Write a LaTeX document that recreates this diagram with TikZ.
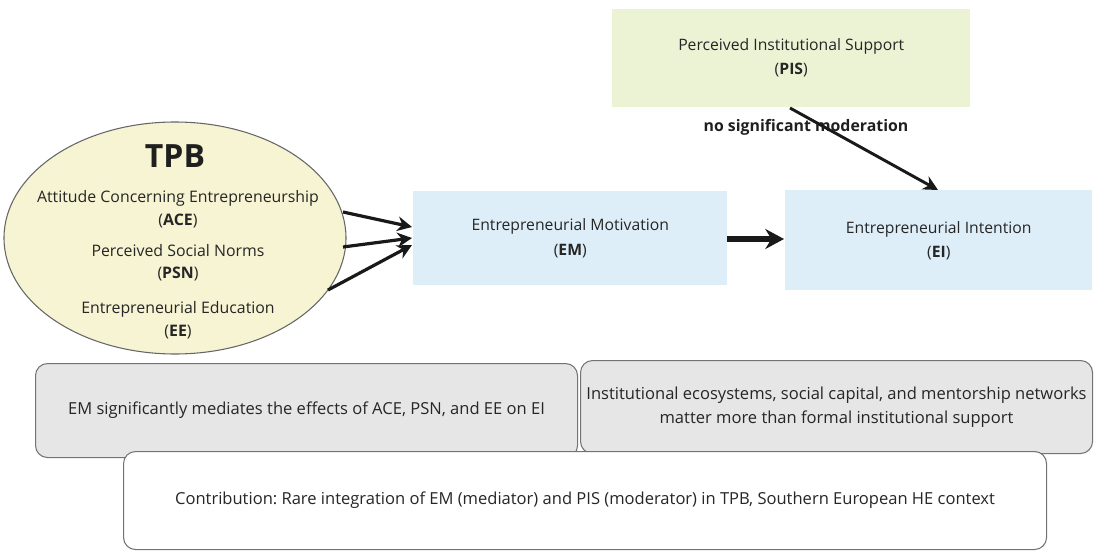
\documentclass[tikz,border=0pt]{standalone}
\usepackage{fontspec}
\setmainfont{Open Sans}
\usetikzlibrary{shapes.geometric,arrows.meta}
\frenchspacing
\definecolor{pisfill}{HTML}{EBF3D4}
\definecolor{bluefill}{HTML}{DDEEF8}
\definecolor{ellfill}{HTML}{F7F4D3}
\definecolor{grayfill}{HTML}{E6E6E6}
\definecolor{txt}{HTML}{262626}
\tikzset{
  boxbase/.style={anchor=north west, inner sep=0pt, align=center, font=\fontsize{11.8}{18}\selectfont, text=txt},
  greenbox/.style={boxbase, fill=pisfill},
  bluebox/.style={boxbase, fill=bluefill},
  graybox/.style={boxbase, fill=grayfill, draw=black!55, rounded corners=9pt, line width=0.8pt, font=\fontsize{12.4}{18}\selectfont},
  whitebox/.style={boxbase, fill=white, draw=black!55, rounded corners=9pt, line width=0.8pt, font=\fontsize{12.4}{18}\selectfont},
  arr/.style={-{Stealth[length=11pt,width=11pt]}, line width=2.4pt, black!90},
  ltxt/.style={font=\fontsize{11.9}{13}\selectfont, text=txt, inner sep=0pt}
}
\begin{document}
\begin{tikzpicture}[x=0.75pt,y=-0.75pt]
\useasboundingbox (0,0) rectangle (1100,560);
% PIS
\node[greenbox, minimum width=358*0.75pt, minimum height=98*0.75pt] (pis) at (612,9) {Perceived Institutional Support\\(\textbf{PIS})};
% EM, EI
\node[bluebox, minimum width=314*0.75pt, minimum height=94*0.75pt] (em) at (413,191) {Entrepreneurial Motivation\\(\textbf{EM})};
\node[bluebox, minimum width=307*0.75pt, minimum height=100*0.75pt] (ei) at (785,190) {Entrepreneurial Intention\\(\textbf{EI})};
% TPB ellipse
\node[ellipse, draw=black!60, fill=ellfill, line width=0.8pt, minimum width=342*0.75pt, minimum height=232*0.75pt, inner sep=0pt] (tpb) at (175,238) {};
\node[ltxt, font=\fontsize{24}{26}\selectfont\bfseries, text=black!88] (tpbt) at (175,156) {TPB};
\node[ltxt] (ace) at (178,198) {Attitude Concerning Entrepreneurship};
\node[ltxt] (acea) at (178,221) {(\textbf{ACE})};
\node[ltxt] (psn) at (178,251) {Perceived Social Norms};
\node[ltxt] (psna) at (178,274) {(\textbf{PSN})};
\node[ltxt] (ee) at (178,309) {Entrepreneurial Education};
\node[ltxt] (eea) at (178,332) {(\textbf{EE})};
% arrows
\coordinate (s1) at (343,212);
\coordinate (s2) at (343,247);
\coordinate (s3) at (328,290);
\coordinate (t1) at (412,227);
\coordinate (t2) at (412,238);
\coordinate (t3) at (412,245);
\coordinate (m1) at (727,239);
\coordinate (m2) at (784,239);
\draw[arr] (s1) -- (t1);
\draw[arr] (s2) -- (t2);
\draw[arr] (s3) -- (t3);
\draw[arr, line width=4pt, -{Stealth[length=14pt,width=15pt]}] (m1) -- (m2);
\node[ltxt, font=\fontsize{11.9}{13}\selectfont\bfseries, text=black!88] (mod) at (806,127) {no significant moderation};
\coordinate (p1) at (790,108);
\coordinate (p2) at (938,190);
\draw[arr, line width=2.2pt] (p1) -- (p2);
% bottom boxes
\node[graybox, minimum width=542*0.75pt, minimum height=94*0.75pt] (b1) at (35,363) {EM significantly mediates the effects of ACE, PSN, and EE on EI};
\node[graybox, minimum width=512*0.75pt, minimum height=93*0.75pt, font=\fontsize{12.4}{18}\selectfont] (b2) at (580,360) {Institutional ecosystems, social capital, and mentorship networks\\matter more than formal institutional support};
\node[whitebox, minimum width=923*0.75pt, minimum height=98*0.75pt] (b3) at (123,451) {Contribution: Rare integration of EM (mediator) and PIS (moderator) in TPB, Southern European HE context};
\end{tikzpicture}
\end{document}
